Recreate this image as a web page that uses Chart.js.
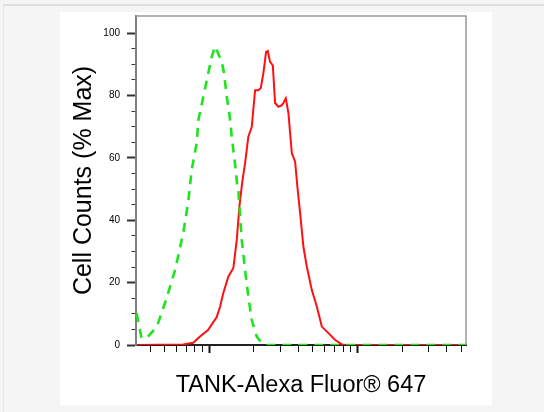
<!DOCTYPE html>
<html>
<head>
<meta charset="utf-8">
<script src="https://cdn.jsdelivr.net/npm/chart.js@4.4.1/dist/chart.umd.min.js"></script>
<style>
  html, body { margin: 0; padding: 0; }
  body { width: 544px; height: 412px; background: #f5f5f5; position: relative; overflow: hidden; }
  #frame { position: absolute; left: 3px; top: 4px; right: 0; bottom: 0; border-top: 2px solid #dedede; border-left: 1px solid #e6e6e6; }
  #panel { position: absolute; left: 60px; top: 12px; width: 432px; height: 393px; background: #fff; }
  #wrap { position: absolute; left: 0; top: 0; width: 544px; height: 412px; }
</style>
</head>
<body>
<div id="frame"></div>
<div id="panel"></div>
<div id="wrap"><canvas id="histo" width="544" height="412"></canvas></div>
<script>
// fluorescence (log) vs % max
const greenX = [323, 349, 385, 443, 464, 510, 587, 667, 722, 760, 822, 843, 911, 984, 1038, 1093, 1213, 1257, 1311, 1365, 1417, 1453, 1508, 1546, 1570, 1655, 1743, 1834, 1934, 2091, 2260, 2443, 54000];
const greenY = [10.2, 2.2, 2.7, 5.9, 8.7, 14.4, 24.0, 35.9, 46.2, 56.1, 64.7, 72.1, 79.6, 87.2, 92.4, 95.8, 90.8, 87.2, 79.6, 74.4, 66.8, 62.5, 56.1, 50.7, 49.7, 33.7, 24.0, 15.5, 8.0, 2.7, 0.6, 0, 0];

const redX = [323, 667, 780, 865, 980, 1122, 1181, 1243, 1344, 1453, 1532, 1595, 1668, 1743, 1834, 1934, 2037, 2143, 2225, 2317, 2416, 2481, 2571, 2682, 2779, 2925, 3084, 3162, 3283, 3418, 3605, 3794, 3931, 4101, 4316, 4551, 4919, 5318, 5747, 6369, 7068, 7845, 8480, 54000];
const redY = [0, 0.2, 0.7, 2.7, 4.8, 9.0, 12.2, 16.7, 21.9, 24.7, 33.7, 44.3, 52.2, 58.3, 66.8, 70.0, 81.7, 81.7, 82.4, 87.2, 94.0, 94.3, 90.8, 89.7, 77.6, 76.4, 76.9, 77.6, 79.1, 74.4, 61.5, 58.8, 50.7, 42.3, 31.5, 25.1, 17.6, 12.3, 5.9, 3.8, 1.6, 0.2, 0, 0];

const xTicks = [400, 500, 600, 700, 800, 900, 1000, 2000, 3000, 4000, 5000, 6000, 7000, 8000, 9000, 10000, 20000, 30000, 40000, 50000];
const xMajor = [1000, 10000];
const yTicks = [0, 5, 10, 15, 20, 25, 30, 35, 40, 45, 50, 55, 60, 65, 70, 75, 80, 85, 90, 95, 100];
const yLabels = [0, 20, 40, 60, 80, 100];

const FONT = "'Liberation Sans', Arial, sans-serif";

function toPoints(xs, ys) {
  return xs.map(function (x, i) { return { x: x, y: ys[i] }; });
}

// gray box on top and right of the plot
const frameBox = {
  id: "frameBox",
  afterDatasetsDraw: function (chart) {
    const a = chart.chartArea;
    const ctx = chart.ctx;
    ctx.save();
    ctx.strokeStyle = "#999";
    ctx.lineWidth = 1.5;
    ctx.beginPath();
    ctx.moveTo(a.left, a.top);
    ctx.lineTo(a.right, a.top);
    ctx.lineTo(a.right, a.bottom);
    ctx.stroke();
    ctx.restore();
  }
};

new Chart(document.getElementById("histo"), {
  type: "line",
  data: {
    datasets: [
      {
        label: "control",
        data: toPoints(greenX, greenY),
        borderColor: "rgb(30, 228, 30)",
        borderWidth: 2.6,
        borderDash: [9, 7],
        pointRadius: 0,
        tension: 0,
      },
      {
        label: "TANK",
        data: toPoints(redX, redY),
        borderColor: "#ff1010",
        borderWidth: 2,
        pointRadius: 0,
        tension: 0,
      },
    ],
  },
  options: {
    responsive: false,
    animation: false,
    devicePixelRatio: 1,
    layout: { padding: { left: 60, top: 16, right: 78, bottom: 0 } },
    plugins: { legend: { display: false }, tooltip: { enabled: false } },
    scales: {
      x: {
        type: "logarithmic",
        min: 320,
        max: 54000,
        afterBuildTicks: function (s) {
          s.ticks = xTicks.map(function (v) { return { value: v, major: xMajor.includes(v) }; });
        },
        afterFit: function (s) { s.height = 67; },
        ticks: { display: false, autoSkip: false },
        grid: {
          drawOnChartArea: false,
          tickLength: 8,
          tickColor: "#111",
          tickWidth: function (c) { return xMajor.includes(c.tick.value) ? 2 : 1; },
          tickBorderDash: function (c) { return xMajor.includes(c.tick.value) ? [] : [6, 20]; },
        },
        border: { color: "#222", width: 2 },
        title: {
          display: true,
          text: "TANK-Alexa Fluor® 647",
          color: "#000",
          font: { family: FONT, size: 23.5 },
          padding: { top: 0, bottom: 12 },
        },
      },
      y: {
        min: 0,
        max: 105.5,
        afterBuildTicks: function (s) {
          s.ticks = yTicks.map(function (v) { return { value: v }; });
        },
        afterFit: function (s) { s.width = 76; },
        ticks: {
          autoSkip: false,
          padding: 7,
          color: "#000",
          font: { family: FONT, size: 10 },
          callback: function (v) { return yLabels.includes(v) ? String(v) : ""; },
        },
        grid: {
          drawOnChartArea: false,
          tickLength: 9,
          tickColor: "#333",
          tickWidth: function (c) { return yLabels.includes(c.tick.value) ? 2 : 1; },
          tickBorderDash: function (c) { return yLabels.includes(c.tick.value) ? [] : [0, 4.5, 20, 0]; },
        },
        border: { color: "#808080", width: 2 },
        title: {
          display: true,
          text: "Cell Counts (% Max)",
          color: "#000",
          font: { family: FONT, size: 25 },
          padding: { top: 9, bottom: 0 },
        },
      },
    },
  },
  plugins: [frameBox],
});
</script>
</body>
</html>
